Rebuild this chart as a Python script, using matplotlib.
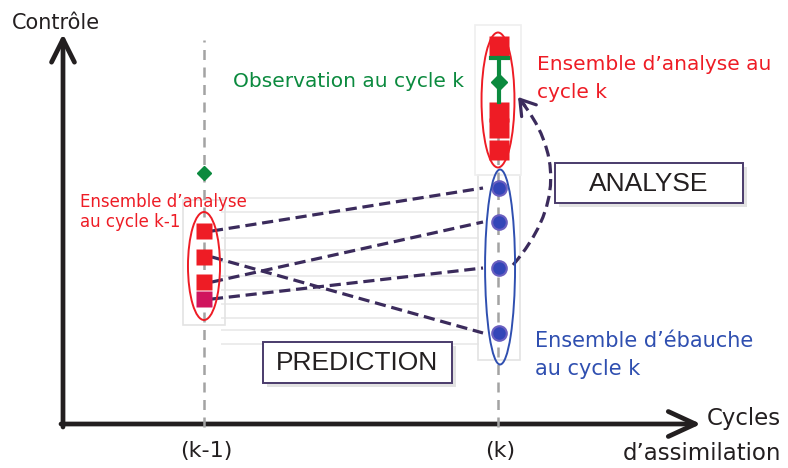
import matplotlib.pyplot as plt
from matplotlib.patches import Ellipse, Rectangle, PathPatch
from matplotlib.path import Path

# cycles d'assimilation : k-1 -> 0, k -> 1
cycle_labels = ['(k-1)', '(k)']
cycles = [0, 1]

# valeurs de controle des membres (unites arbitraires)
analyse_prev = [1.94, 1.68, 1.43, 1.26]     # ensemble d'analyse au cycle k-1
ebauche_k = [2.37, 2.03, 1.57, 0.92]        # ensemble d'ebauche au cycle k
propagation = [0, 3, 1, 2]                  # membre k-1 -> membre d'ebauche k
analyse_k = [3.79, 3.13, 2.97, 2.75]        # ensemble d'analyse au cycle k
obs_prev = 2.52
obs_k = 3.43
obs_err = [3.67, 3.23]

RED = '#ee1c25'
BLUE = '#2f4fb0'
GREEN = '#0b8a3e'
PURPLE = '#3b2b5c'
INK = '#231f20'

fig = plt.figure(figsize=(7.88, 4.68), dpi=100)

# axe de mise en page en pixels
lay = fig.add_axes([0, 0, 1, 1])
lay.set_xlim(0, 788)
lay.set_ylim(468, 0)
lay.axis('off')

# axe des donnees (cycle, controle)
ax = fig.add_axes([0, 0, 1, 1])
ax.set_xlim(-204 / 294, 584 / 294)
ax.set_ylim(-0.43, 4.25)
ax.axis('off')
ax.patch.set_alpha(0)

# %% fond grise (restes des images)
for yy in [198, 212, 238, 250, 262, 276, 290, 304, 318, 330, 344]:
    lay.plot([222, 478], [yy, yy], color='#ececec', lw=1.4, zorder=0)
lay.add_patch(Rectangle((183, 200), 42, 125, fill=False, ec='#e3e3e3', lw=1.2, zorder=0))
lay.add_patch(Rectangle((478, 175), 42, 185, fill=False, ec='#e3e3e3', lw=1.2, zorder=0))
lay.add_patch(Rectangle((475, 25), 46, 150, fill=False, ec='#efefef', lw=1.2, zorder=0))

# %% lignes verticales des cycles
for c in cycles:
    ax.plot([c, c], [-0.02, 3.85], color='#a3a3a3', lw=1.8, ls=(0, (4, 3)), zorder=1)

# %% axes
lay.annotate('', xy=(63, 34), xytext=(63, 427),
             arrowprops=dict(arrowstyle='->,head_length=1.1,head_width=0.55',
                             lw=3.4, color=INK, mutation_scale=15, shrinkA=0, shrinkB=0))
lay.annotate('', xy=(701, 424), xytext=(61, 424),
             arrowprops=dict(arrowstyle='->,head_length=1.3,head_width=0.6',
                             lw=3.4, color=INK, mutation_scale=15, shrinkA=0, shrinkB=0))

# %% propagation (prediction)
for i, j in enumerate(propagation):
    ax.plot([0.027, 0.949], [analyse_prev[i], ebauche_k[j]], color=PURPLE, lw=2.3,
            ls=(0, (3.5, 1.8)), zorder=3)

# %% ensembles
ax.plot([0] * 3, analyse_prev[:3], 's', color=RED, ms=11.5, mec='none', zorder=4)
ax.plot([0], analyse_prev[3:], 's', color='#d0145e', ms=11.5, mec='none', zorder=4)
ax.plot([1.004] * 4, ebauche_k, 'o', color='#3346b8', ms=10.5, mec='#6a5fc0', mew=1.5, zorder=4)
ax.plot([1.004] * 4, analyse_k, 's', color=RED, ms=14, mec='none', zorder=4)

ax.add_patch(Ellipse((0, 1.59), 0.109, 1.08, fill=False, ec=RED, lw=1.4, zorder=5))
ax.add_patch(Ellipse((1.007, 1.58), 0.102, 1.95, fill=False, ec=BLUE, lw=1.4, zorder=5))
ax.add_patch(Ellipse((1.0, 3.25), 0.112, 1.35, fill=False, ec=RED, lw=1.4, zorder=5))

# %% observations
ax.plot([0], [obs_prev], 'D', color=GREEN, ms=7, zorder=4)
ax.plot([1.004, 1.004], obs_err, color=GREEN, lw=3, zorder=5)
ax.plot([0.975, 1.033], [obs_err[0]] * 2, color=GREEN, lw=3, zorder=5)
ax.plot([1.004], [obs_k], 'D', color=GREEN, ms=8, zorder=6)

# %% fleche courbe de l'analyse
p0, p1, p2 = (513, 265), (586, 180), (518, 97)
curve = Path([p0, p1, p2], [Path.MOVETO, Path.CURVE3, Path.CURVE3])
lay.add_patch(PathPatch(curve, fill=False, ec=PURPLE, lw=2.3, ls=(0, (3.5, 1.8)), zorder=3))
lay.annotate('', xy=p2, xytext=(p2[0] + 6.8, p2[1] + 8.5),
             arrowprops=dict(arrowstyle='->,head_length=0.7,head_width=0.45',
                             lw=2.3, color=PURPLE, mutation_scale=15, shrinkA=0, shrinkB=0))

# %% boites
for (bx, by, bw, bh, txt) in [(555, 163, 188, 40, 'ANALYSE'), (263, 342, 189, 41, 'PREDICTION')]:
    lay.add_patch(Rectangle((bx + 4, by + 4), bw, bh, fc='#cfcfcf', ec='none', alpha=0.6, zorder=6))
    lay.add_patch(Rectangle((bx, by), bw, bh, fc='white', ec='#4a3b6b', lw=1.4, zorder=7))
    lay.text(bx + bw / 2, by + bh / 2 + 1, txt, ha='center', va='center', fontsize=19,
             family='Liberation Sans', color=INK, zorder=8)

# %% textes
lay.text(12, 29, 'Contrôle', fontsize=15, color=INK, va='baseline')
lay.text(707, 425, 'Cycles', fontsize=16.5, color=INK, va='baseline')
lay.text(623, 460, 'd’assimilation', fontsize=16.5, color=INK, va='baseline')
for c, lab in zip(cycles, cycle_labels):
    lay.text(204 + 294 * c + 2, 451, lab, fontsize=16, color=INK, ha='center', va='center')

lay.text(233, 87, 'Observation au cycle k', fontsize=14.5, color=GREEN, va='baseline')
lay.text(537, 70, 'Ensemble d’analyse au', fontsize=14.5, color=RED, va='baseline')
lay.text(537, 98, 'cycle k', fontsize=14.5, color=RED, va='baseline')
lay.text(80, 207, 'Ensemble d’analyse', fontsize=12, color=RED, va='baseline')
lay.text(80, 227, 'au cycle k-1', fontsize=12, color=RED, va='baseline')
lay.text(535, 347, 'Ensemble d’ébauche', fontsize=15, color=BLUE, va='baseline')
lay.text(535, 375, 'au cycle k', fontsize=15, color=BLUE, va='baseline')

fig.savefig('out.png', dpi=100)
